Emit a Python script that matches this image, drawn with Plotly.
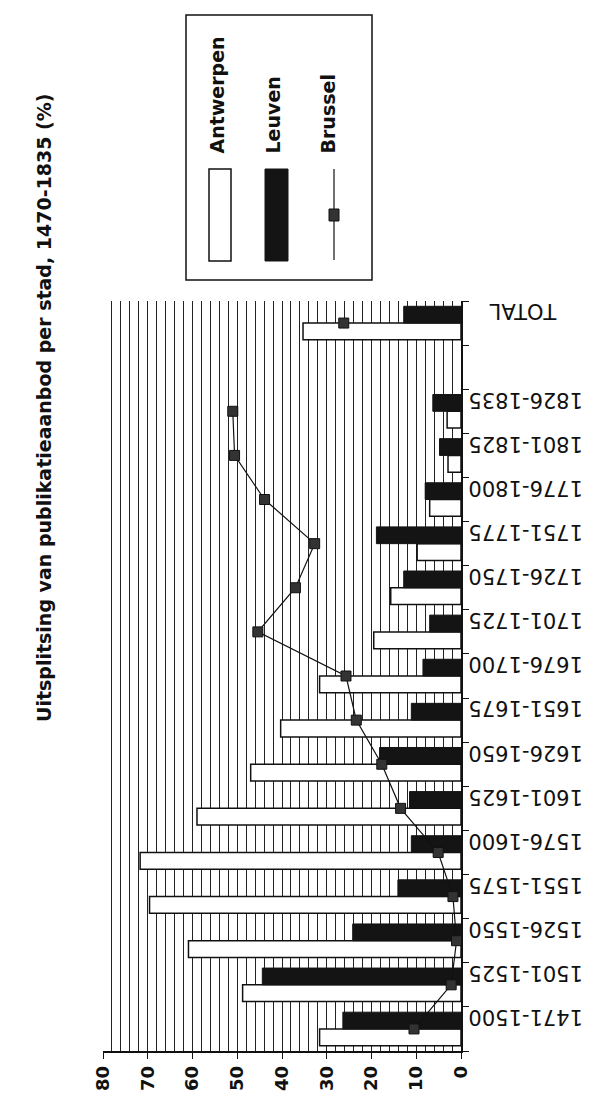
import plotly.graph_objects as go

# ---- data ----
categories = ["1471-1500", "1501-1525", "1526-1550", "1551-1575", "1576-1600",
              "1601-1625", "1626-1650", "1651-1675", "1676-1700", "1701-1725",
              "1726-1750", "1751-1775", "1776-1800", "1801-1825", "1826-1835",
              " ", "TOTAL"]
antwerpen = [31.6, 48.8, 60.9, 69.6, 71.7, 59.0, 47.0, 40.3, 31.6, 19.5,
             15.7, 9.8, 7.0, 2.9, 3.1, None, 35.3]
leuven = [26.4, 44.4, 24.2, 14.1, 11.1, 11.5, 18.2, 11.1, 8.5, 7.0,
          12.8, 18.9, 8.0, 4.8, 6.3, None, 12.8]
brussel = [10.5, 2.2, 1.0, 1.8, 5.1, 13.5, 17.7, 23.4, 25.7, 45.4,
           37.0, 32.7, 43.9, 50.6, 51.0, None, 26.2]
series_names = ["Antwerpen", "Leuven", "Brussel"]
value_ticks = [0, 10, 20, 30, 40, 50, 60, 70, 80]
title_text = "Uitsplitsing van publikatieaanbod per stad, 1470-1835 (%)"

# ---- layout geometry (pixels) ----
W, H = 597, 1097
ML, MR, MT, MB = 95, 144, 293, 54
PW, PH = W - ML - MR, H - MT - MB


def px(x):
    return (x - ML) / PW


def py(y):
    return (H - MB - y) / PH


# category tick texts (upside-down labels are right-anchored; pad short ones)
cat_ticktext = [c if c != "TOTAL" else "\u00a0\u00a0\u00a0\u00a0" + c
                for c in categories]

fig = go.Figure()
fig.add_trace(go.Bar(
    y=categories, x=antwerpen, orientation="h", name=series_names[0],
    marker=dict(color="white", line=dict(color="#111", width=1.5)),
))
fig.add_trace(go.Bar(
    y=categories, x=leuven, orientation="h", name=series_names[1],
    marker=dict(color="#141414", line=dict(color="#141414", width=1)),
))
fig.add_trace(go.Scatter(
    y=categories, x=brussel, name=series_names[2], mode="lines+markers",
    line=dict(color="#111", width=1.2),
    marker=dict(symbol="square", size=10, color="#333",
                line=dict(color="#111", width=1)),
    connectgaps=False,
))

fig.update_layout(
    width=W, height=H,
    margin=dict(l=ML, r=MR, t=MT, b=MB, pad=0),
    paper_bgcolor="white", plot_bgcolor="white",
    barmode="group", bargap=0.24, bargroupgap=0,
    showlegend=False,
    font=dict(family="DejaVu Sans", color="#111"),
)
fig.update_xaxes(
    range=[80, 0], tickmode="array", tickvals=value_ticks,
    ticktext=[str(v) for v in value_ticks],
    ticks="outside", ticklen=6, tickwidth=1.2, tickcolor="#111",
    tickangle=-90, automargin=False,
    tickfont=dict(family="DejaVu Sans", size=18, weight="bold", color="#111"),
    showgrid=True, gridcolor="#222", gridwidth=1,
    minor=dict(dtick=2, tick0=0, showgrid=True, gridcolor="#222", gridwidth=1),
    showline=True, linecolor="#111", linewidth=1.5, zeroline=False,
)
fig.update_yaxes(
    type="category", categoryorder="array", categoryarray=categories,
    tickmode="array", tickvals=categories, ticktext=cat_ticktext,
    range=[-0.5, len(categories) - 0.5], automargin=False,
    side="right", tickson="boundaries", ticks="outside", ticklen=6,
    tickwidth=1.2, tickcolor="#111", tickangle=180,
    ticklabelstandoff=116, ticklabelshift=-5,
    tickfont=dict(family="DejaVu Sans", size=21, color="#111"),
    showgrid=False, showline=True, linecolor="#111", linewidth=1.5,
    zeroline=False,
)

# title (rotated)
fig.add_annotation(
    text=title_text, xref="paper", yref="paper", x=px(36), y=py(400),
    textangle=-90, showarrow=False, xanchor="center", yanchor="middle",
    font=dict(family="DejaVu Sans", size=19, weight="bold", color="#111"),
)

# legend box (rotated legend)
fig.add_shape(type="rect", xref="paper", yref="paper",
              x0=px(178), x1=px(364), y0=py(272), y1=py(7),
              line=dict(color="#111", width=1.5), fillcolor="white")
fig.add_shape(type="rect", xref="paper", yref="paper",
              x0=px(201), x1=px(223), y0=py(253), y1=py(161),
              line=dict(color="#111", width=1.5), fillcolor="white")
fig.add_shape(type="rect", xref="paper", yref="paper",
              x0=px(257), x1=px(280), y0=py(253), y1=py(161),
              line=dict(color="#141414", width=1), fillcolor="#141414")
fig.add_shape(type="line", xref="paper", yref="paper",
              x0=px(326), x1=px(326), y0=py(252), y1=py(161),
              line=dict(color="#111", width=1.2))
fig.add_shape(type="rect", xref="paper", yref="paper",
              x0=px(321), x1=px(331), y0=py(213), y1=py(201),
              line=dict(color="#111", width=1), fillcolor="#333")
for name, xc in zip(series_names, [209, 265, 320]):
    fig.add_annotation(
        text=name, xref="paper", yref="paper", x=px(xc), y=py(148),
        textangle=-90, showarrow=False, xanchor="center", yanchor="bottom",
        font=dict(family="DejaVu Sans", size=19, weight="bold", color="#111"),
    )

fig.write_html("out.html")
